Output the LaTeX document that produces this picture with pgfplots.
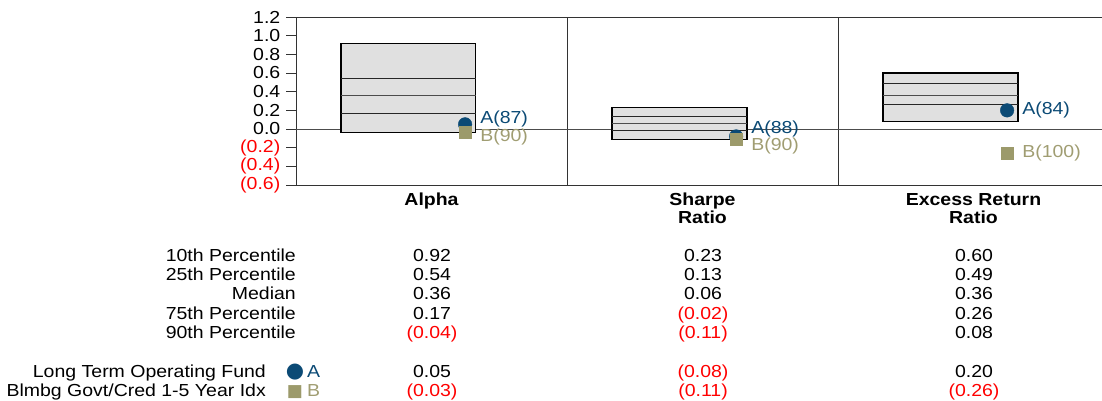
\documentclass[border=0pt]{standalone}
\usepackage{pgfplots}
\pgfplotsset{compat=1.18}
\usetikzlibrary{calc}
\usepackage{fontspec}
\setmainfont[FakeStretch=1.12]{Liberation Sans}
\newfontfamily\symfont{DejaVu Sans}
\definecolor{cA}{HTML}{0B4A75}
\definecolor{cB}{HTML}{9C9A6B}
\definecolor{cBt}{HTML}{A09D72}
\definecolor{boxfill}{HTML}{E0E0E0}
\definecolor{negc}{HTML}{FF0000}
\newcommand{\ngv}[1]{\textcolor{negc}{(#1)}}
\begin{document}
\fontsize{17.4}{18}\selectfont
\begin{tikzpicture}[x=1pt,y=1pt]
\useasboundingbox (0,0) rectangle (1102,400);
\begin{axis}[
  at={(296pt,215pt)}, anchor=south west,
  scale only axis, width=813pt, height=168pt,
  xmin=-0.5, xmax=2.5, ymin=-0.6, ymax=1.2,
  axis line style={draw=none},
  clip=false,
  ytick={-0.6,-0.4,-0.2,0,0.2,0.4,0.6,0.8,1.0,1.2},
  yticklabels={\ngv{0.6},\ngv{0.4},\ngv{0.2},0.0,0.2,0.4,0.6,0.8,1.0,1.2},
  ytick pos=left, tick align=outside, major tick length=10pt,
  ytick style={black!80, line width=0.8pt},
  yticklabel style={inner sep=0pt, xshift=-5.5pt},
  xtick={0,1,2},
  xticklabels={Alpha,{Sharpe\\Ratio},{Excess Return\\Ratio}},
  xtick style={draw=none},
  xticklabel style={font=\bfseries, align=center, anchor=north, inner sep=0pt, yshift=2pt},
]
% frame
\draw[black!80, line width=0.8pt] (axis cs:-0.5,-0.6) -- (axis cs:-0.5,1.2);
\draw[black!80, line width=0.8pt] (axis cs:-0.5,1.2) -- (axis cs:2.6,1.2);
\draw[black!80, line width=0.8pt] (axis cs:-0.5,-0.6) -- (axis cs:2.6,-0.6);
\draw[black!80, line width=0.8pt] (axis cs:0.5,-0.6) -- (axis cs:0.5,1.2);
\draw[black!80, line width=0.8pt] (axis cs:1.5,-0.6) -- (axis cs:1.5,1.2);
\draw[black!70, line width=0.7pt] (axis cs:-0.5,0) -- (axis cs:2.6,0);
% Alpha box
\addplot[draw=black, fill=boxfill, line width=1.1pt] coordinates {(-0.334,-0.04) (0.164,-0.04) (0.164,0.92) (-0.334,0.92)} -- cycle;
\addplot[black!85, line width=0.9pt] coordinates {(-0.334,0.54) (0.164,0.54)};
\addplot[black!70, line width=1pt] coordinates {(-0.334,0.36) (0.164,0.36)};
\addplot[black!85, line width=0.9pt] coordinates {(-0.334,0.17) (0.164,0.17)};
% Sharpe box
\addplot[draw=black, fill=boxfill, line width=1.1pt] coordinates {(0.666,-0.11) (1.164,-0.11) (1.164,0.23) (0.666,0.23)} -- cycle;
\addplot[black!85, line width=0.9pt] coordinates {(0.666,0.13) (1.164,0.13)};
\addplot[black!70, line width=1pt] coordinates {(0.666,0.06) (1.164,0.06)};
\addplot[black!85, line width=0.9pt] coordinates {(0.666,-0.02) (1.164,-0.02)};
% ERR box
\addplot[draw=black, fill=boxfill, line width=1.1pt] coordinates {(1.666,0.08) (2.164,0.08) (2.164,0.60) (1.666,0.60)} -- cycle;
\addplot[black!85, line width=0.9pt] coordinates {(1.666,0.49) (2.164,0.49)};
\addplot[black!70, line width=1pt] coordinates {(1.666,0.36) (2.164,0.36)};
\addplot[black!85, line width=0.9pt] coordinates {(1.666,0.26) (2.164,0.26)};
% markers
\addplot[only marks, mark=*, mark size=6.8pt, color=cA, mark options={fill=cA, draw=cA}] coordinates {(0.124,0.05) (1.124,-0.08) (2.124,0.20)};
\addplot[only marks, mark=square*, mark size=6pt, color=cB, mark options={fill=cB, draw=cB}] coordinates {(0.124,-0.03) (1.124,-0.11) (2.124,-0.26)};
% labels
\node[anchor=west, text=cA, inner sep=0pt] at ($(axis cs:0.124,0.05)+(15pt,5pt)$) {A(87)};
\node[anchor=west, text=cBt, inner sep=0pt] at ($(axis cs:0.124,-0.03)+(15pt,-5pt)$) {B(90)};
\node[anchor=west, text=cA, inner sep=0pt] at ($(axis cs:1.124,-0.08)+(15pt,7pt)$) {A(88)};
\node[anchor=west, text=cBt, inner sep=0pt] at ($(axis cs:1.124,-0.11)+(15pt,-7pt)$) {B(90)};
\node[anchor=west, text=cA, inner sep=0pt] at ($(axis cs:2.124,0.20)+(15pt,0pt)$) {A(84)};
\node[anchor=west, text=cBt, inner sep=0pt] at ($(axis cs:2.124,-0.26)+(15pt,0pt)$) {B(100)};
\end{axis}
% table
\foreach \lab/\yy in {10th Percentile/139, 25th Percentile/119.7, Median/100.4, 75th Percentile/81, 90th Percentile/61.7}{
  \node[anchor=base east, inner sep=0pt] at (296,\yy) {\lab};
}
\node[anchor=base east, inner sep=0pt] at (266,23) {Long Term Operating Fund};
\node[anchor=base east, inner sep=0pt] at (266,4) {Blmbg Govt/Cred 1-5 Year Idx};
\node[anchor=base, inner sep=0pt, text=cA] at (295,23) {\fontsize{21}{21}\symfont ●};
\node[anchor=base, inner sep=0pt, text=cB] at (295,4) {\fontsize{17}{17}\symfont ■};
\node[anchor=base west, inner sep=0pt, text=cA] at (307,23) {A};
\node[anchor=base west, inner sep=0pt, text=cBt] at (307,4) {B};
% values
\foreach \xx/\a/\b/\c/\d/\e/\f/\g in {
  432/0.92/0.54/0.36/0.17/\ngv{0.04}/0.05/\ngv{0.03},
  703/0.23/0.13/0.06/\ngv{0.02}/\ngv{0.11}/\ngv{0.08}/\ngv{0.11},
  974/0.60/0.49/0.36/0.26/0.08/0.20/\ngv{0.26}}{
  \node[anchor=base, inner sep=0pt] at (\xx,139) {\a};
  \node[anchor=base, inner sep=0pt] at (\xx,119.7) {\b};
  \node[anchor=base, inner sep=0pt] at (\xx,100.4) {\c};
  \node[anchor=base, inner sep=0pt] at (\xx,81) {\d};
  \node[anchor=base, inner sep=0pt] at (\xx,61.7) {\e};
  \node[anchor=base, inner sep=0pt] at (\xx,23) {\f};
  \node[anchor=base, inner sep=0pt] at (\xx,4) {\g};
}
\end{tikzpicture}
\end{document}
